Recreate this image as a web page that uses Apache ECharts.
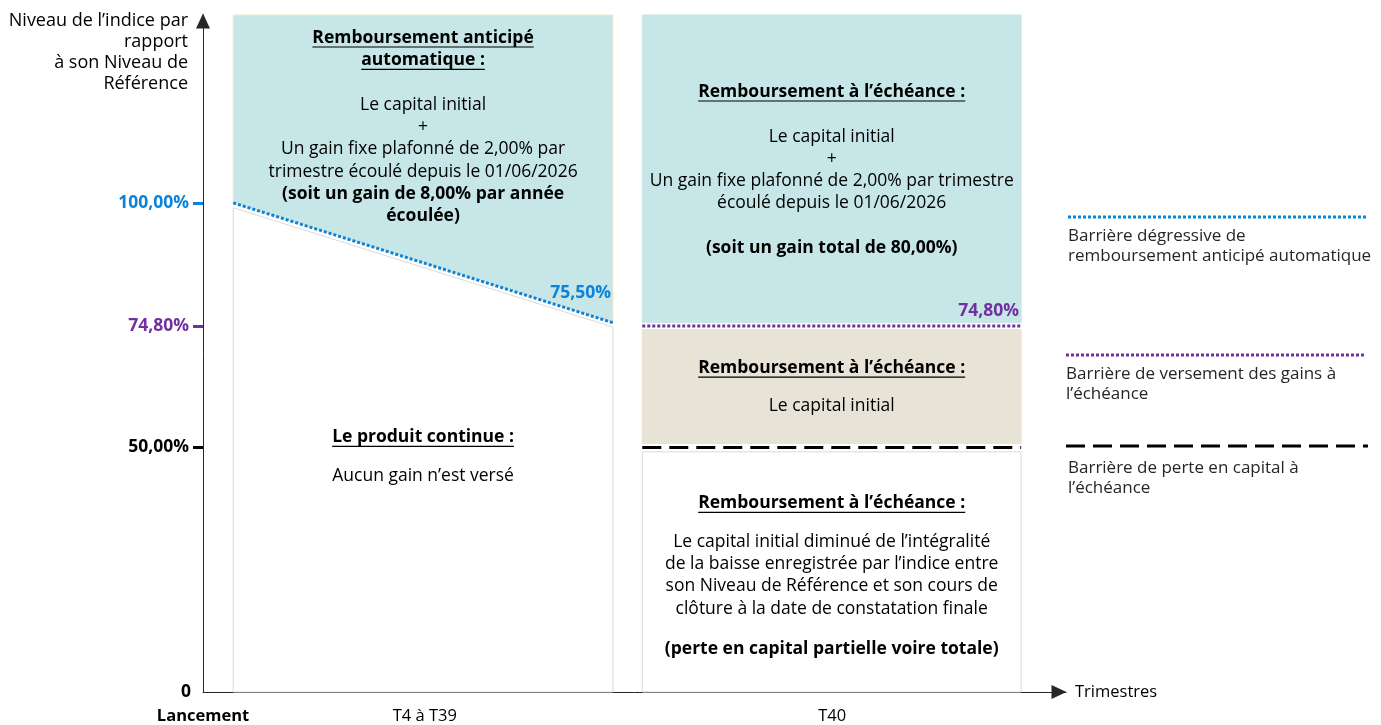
<!DOCTYPE html>
<html>
<head>
<meta charset="utf-8">
<script src="https://cdn.jsdelivr.net/npm/echarts@6/dist/echarts.min.js"></script>
<style>
  html, body { margin: 0; padding: 0; background: #fff; }
  #chart { width: 1381px; height: 725px; }
</style>
</head>
<body>
<div id="chart"></div>
<script>
const FONT = '"Open Sans", "Noto Sans", sans-serif';
const FS = 17.5;      // text inside the zones and tick labels
const FS_LEG = 17;    // legend on the right
const FS_NAME = 18;   // y axis name
const FS_X = 16.5;    // x axis labels / name

// axis ticks / labels
const xLabels = ['Lancement', 'T4 à T39', 'T40'];
const xLabelPos = [0, 25.7, 72.9];
const yTicks = [50, 74.8, 100];
const yTickLabels = ['50,00%', '74,80%', '100,00%'];
const yTickColors = ['#000000', '#7030A0', '#0A84DB'];

// observation windows on the x scale, top of the diagram on the y scale
const windowPeriod = [3.5, 47.5];
const windowFinal = [50.9, 94.8];
const yTop = 138.4;

// barriers
const autocallBarrier = [100, 75.5]; // first and last observation
const couponBarrier = 74.8;
const capitalBarrier = 50;

const TEAL = '#C7E6E8', BEIGE = '#E7E3D6';
const BLUE = '#0A84DB', PURPLE = '#7030A0';
const AXIS = '#262626';

// filled zones, built from the values above
const zones = [
  { fill: TEAL, stroke: '#F3E8CC', pts: [[windowPeriod[0], yTop], [windowPeriod[1], yTop], [windowPeriod[1], autocallBarrier[1]], [windowPeriod[0], autocallBarrier[0]]] },
  { fill: '#fff', stroke: '#D9D9D9', pts: [[windowPeriod[0], 0], [windowPeriod[0], autocallBarrier[0] - 1], [windowPeriod[1], autocallBarrier[1] - 0.9], [windowPeriod[1], 0]] },
  { fill: TEAL, stroke: TEAL, pts: [[windowFinal[0], yTop], [windowFinal[1], yTop], [windowFinal[1], couponBarrier + 0.7], [windowFinal[0], couponBarrier + 0.7]] },
  { fill: BEIGE, stroke: BEIGE, pts: [[windowFinal[0], couponBarrier - 0.7], [windowFinal[1], couponBarrier - 0.7], [windowFinal[1], capitalBarrier + 0.8], [windowFinal[0], capitalBarrier + 0.8]] },
  { fill: '#fff', stroke: '#D9D9D9', pts: [[windowFinal[0], capitalBarrier - 0.9], [windowFinal[1], capitalBarrier - 0.9], [windowFinal[1], 0], [windowFinal[0], 0]] }
];

const mid = r => (r[0] + r[1]) / 2;

// text blocks: anchor in data units, dy in px, lines
const blocks = [
  { x: mid(windowPeriod), y: yTop, dy: 23, lines: [
    { t: 'Remboursement anticipé', b: 1, u: 1 },
    { t: 'automatique :', b: 1, u: 1 },
    { t: '' },
    { t: 'Le capital initial' },
    { t: '+' },
    { t: 'Un gain fixe plafonné de 2,00% par' },
    { t: 'trimestre écoulé depuis le 01/06/2026' },
    { t: '(soit un gain de 8,00% par année', b: 1 },
    { t: 'écoulée)', b: 1 }
  ]},
  { x: mid(windowFinal), y: yTop, dy: 77, lines: [
    { t: 'Remboursement à l’échéance :', b: 1, u: 1 },
    { t: '' },
    { t: 'Le capital initial' },
    { t: '+' },
    { t: 'Un gain fixe plafonné de 2,00% par trimestre' },
    { t: 'écoulé depuis le 01/06/2026' },
    { t: '' },
    { t: '(soit un gain total de 80,00%)', b: 1 }
  ]},
  { x: mid(windowFinal), y: couponBarrier, dy: 42, lines: [
    { t: 'Remboursement à l’échéance :', b: 1, u: 1 },
    { t: 'Le capital initial', gap: 16 }
  ]},
  { x: mid(windowPeriod), y: capitalBarrier, dy: -10, lines: [
    { t: 'Le produit continue :', b: 1, u: 1 },
    { t: 'Aucun gain n’est versé', gap: 16 }
  ]},
  { x: mid(windowFinal), y: capitalBarrier, dy: 56, lines: [
    { t: 'Remboursement à l’échéance :', b: 1, u: 1 },
    { t: 'Le capital initial diminué de l’intégralité', gap: 16 },
    { t: 'de la baisse enregistrée par l’indice entre' },
    { t: 'son Niveau de Référence et son cours de' },
    { t: 'clôture à la date de constatation finale' },
    { t: '(perte en capital partielle voire totale)', b: 1, gap: 18 }
  ]}
];

// barrier value labels
const valueLabels = [
  { x: windowPeriod[1], y: autocallBarrier[1], dy: -30, t: '75,50%', color: BLUE },
  { x: windowFinal[1], y: couponBarrier, dy: -15, t: '74,80%', color: PURPLE }
];

const measureCtx = document.createElement('canvas').getContext('2d');
function textWidth(t, bold) {
  measureCtx.font = (bold ? 'bold ' : '') + FS + 'px ' + FONT;
  return measureCtx.measureText(t).width;
}

const LH = 22.3;

const chart = echarts.init(document.getElementById('chart'));

const yAxes = [{
  type: 'value', min: 0, max: yTop, position: 'left',
  axisLine: { show: true, lineStyle: { color: AXIS, width: 1 },
    symbol: ['none', 'triangle'], symbolSize: [14, 15], symbolOffset: [0, -6] },
  axisTick: { show: false },
  splitLine: { show: false },
  axisLabel: { customValues: [0], formatter: () => '0', color: '#000', fontWeight: 'bold',
    fontSize: FS, fontFamily: FONT, margin: 12 },
  name: 'Niveau de l’indice par\nrapport\nà son Niveau de\nRéférence',
  nameLocation: 'end', nameGap: 5,
  nameTextStyle: { align: 'right', verticalAlign: 'top', fontSize: FS_NAME, fontFamily: FONT,
    color: '#000', lineHeight: 21, padding: [0, 15, 0, 0] }
}];
yTicks.forEach((v, i) => {
  yAxes.push({
    type: 'value', min: 0, max: yTop, position: 'left',
    axisLine: { show: false },
    splitLine: { show: false },
    axisTick: { show: true, customValues: [v], length: 10, lineStyle: { color: yTickColors[i], width: 3 } },
    axisLabel: { customValues: [v], formatter: () => yTickLabels[i], color: yTickColors[i],
      fontWeight: 'bold', fontSize: FS, fontFamily: FONT, margin: 14 }
  });
});

chart.setOption({
  animation: false,
  grid: { left: 203, right: 315, top: 15, bottom: 33, outerBoundsMode: 'none' },
  xAxis: {
    type: 'value', min: 0, max: 100, position: 'bottom',
    axisLine: { show: true, lineStyle: { color: AXIS, width: 1 },
      symbol: ['none', 'triangle'], symbolSize: [14, 15], symbolOffset: [0, -7] },
    axisTick: { show: false },
    splitLine: { show: false },
    axisLabel: {
      customValues: xLabelPos, margin: 16, fontSize: FS_X, fontFamily: FONT, color: '#000',
      formatter: v => {
        const i = xLabelPos.findIndex(p => Math.abs(p - v) < 1e-6);
        return i === 0 ? '{b|' + xLabels[0] + '}' : xLabels[i];
      },
      rich: { b: { fontWeight: 'bold', fontSize: FS_X, fontFamily: FONT, color: '#000' } }
    },
    name: 'Trimestres', nameLocation: 'end', nameGap: 9,
    nameTextStyle: { align: 'left', verticalAlign: 'middle', fontSize: FS_X, fontFamily: FONT, color: '#000' }
  },
  yAxis: yAxes,
  series: [
    {
      type: 'custom', clip: false, silent: true, z: 1,
      data: zones.map(z => z.pts[0]),
      renderItem: (params, api) => {
        const z = zones[params.dataIndex];
        return { type: 'polygon', shape: { points: z.pts.map(p => api.coord(p)) },
          style: { fill: z.fill, stroke: z.stroke, lineWidth: 1 } };
      }
    },
    {
      type: 'line', silent: true, symbol: 'none', z: 5,
      data: [[windowPeriod[0], autocallBarrier[0]], [windowPeriod[1], autocallBarrier[1]]],
      lineStyle: { color: BLUE, width: 3, type: [3, 2] }
    },
    {
      type: 'line', silent: true, symbol: 'none', z: 5,
      data: [[windowFinal[0], couponBarrier], [windowFinal[1], couponBarrier]],
      lineStyle: { color: PURPLE, width: 3, type: [3, 2] }
    },
    {
      type: 'line', silent: true, symbol: 'none', z: 5,
      data: [[windowFinal[0], capitalBarrier], [windowFinal[1], capitalBarrier]],
      lineStyle: { color: '#000', width: 3, type: [19, 8] }
    },
    {
      type: 'custom', clip: false, silent: true, z: 10,
      data: blocks.map(b => [b.x, b.y]),
      renderItem: (params, api) => {
        const blk = blocks[params.dataIndex];
        const p = api.coord([blk.x, blk.y]);
        let y = p[1] + blk.dy;
        const children = [];
        blk.lines.forEach((ln, k) => {
          if (k > 0) y += LH + (ln.gap || 0);
          if (!ln.t) return;
          children.push({ type: 'text', x: p[0], y: y,
            style: { text: ln.t, fill: '#000', align: 'center', verticalAlign: 'middle',
              font: (ln.b ? 'bold ' : '') + FS + 'px ' + FONT } });
          if (ln.u) {
            const w = textWidth(ln.t, ln.b);
            children.push({ type: 'line', shape: { x1: p[0] - w / 2, y1: y + 9, x2: p[0] + w / 2, y2: y + 9 },
              style: { stroke: '#000', lineWidth: 1.2 } });
          }
        });
        return { type: 'group', children };
      }
    },
    {
      type: 'custom', clip: false, silent: true, z: 10,
      data: valueLabels.map(l => [l.x, l.y]),
      renderItem: (params, api) => {
        const l = valueLabels[params.dataIndex];
        const p = api.coord([l.x, l.y]);
        return { type: 'text', x: p[0] - 2, y: p[1] + l.dy,
          style: { text: l.t, fill: l.color, align: 'right', verticalAlign: 'middle',
            font: 'bold ' + FS + 'px ' + FONT } };
      }
    }
  ],
  graphic: [
    { type: 'line', shape: { x1: 1068, y1: 217, x2: 1368, y2: 217 }, style: { stroke: BLUE, lineWidth: 3, lineDash: [3, 2] } },
    { type: 'text', left: 1068, top: 226, style: { text: 'Barrière dégressive de\nremboursement anticipé automatique', fill: '#262626', font: FS_LEG + 'px ' + FONT, lineHeight: 20 } },
    { type: 'line', shape: { x1: 1066, y1: 355, x2: 1366, y2: 355 }, style: { stroke: PURPLE, lineWidth: 3, lineDash: [3, 2] } },
    { type: 'text', left: 1066, top: 364, style: { text: 'Barrière de versement des gains à\nl’échéance', fill: '#262626', font: FS_LEG + 'px ' + FONT, lineHeight: 20 } },
    { type: 'line', shape: { x1: 1066, y1: 446, x2: 1368, y2: 446 }, style: { stroke: '#000', lineWidth: 3, lineDash: [19, 8] } },
    { type: 'text', left: 1068, top: 458, style: { text: 'Barrière de perte en capital à\nl’échéance', fill: '#262626', font: FS_LEG + 'px ' + FONT, lineHeight: 20 } }
  ]
});
</script>
</body>
</html>
